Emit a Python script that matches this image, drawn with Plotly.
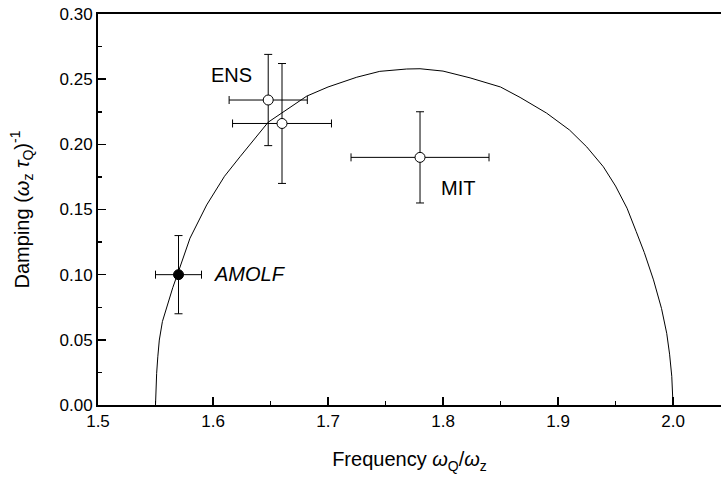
import plotly.graph_objects as go

# Experimental points
lab_names = ["AMOLF", "ENS", "ENS", "MIT"]
freq = [1.57, 1.648, 1.660, 1.780]
freq_err = [0.020, 0.034, 0.043, 0.060]
damp = [0.100, 0.234, 0.216, 0.190]
damp_err = [0.030, 0.035, 0.046, 0.035]

# Theory curve
curve_x = [1.5500, 1.5502, 1.5506, 1.5510, 1.5520, 1.5533, 1.5560, 1.5597, 1.5650, 1.5698,
           1.5800, 1.5945, 1.6100, 1.6235, 1.6480, 1.6815, 1.7000, 1.7250, 1.7450,
           1.7684, 1.7800, 1.8000, 1.8235, 1.8500, 1.8670, 1.8900, 1.9100, 1.9250,
           1.9394, 1.9500, 1.9600, 1.9680, 1.9750, 1.9830, 1.9900, 1.9945, 1.9970,
           1.9989, 2.0000]
curve_y = [0.0000, 0.0060, 0.0150, 0.0243, 0.0370, 0.0498, 0.0640, 0.0754, 0.0900, 0.1020,
           0.1280, 0.1535, 0.1755, 0.1905, 0.2170, 0.2370, 0.2440, 0.2515, 0.2560,
           0.2578, 0.2580, 0.2562, 0.2510, 0.2440, 0.2360, 0.2240, 0.2110, 0.1980,
           0.1828, 0.1680, 0.1510, 0.1330, 0.1170, 0.0960, 0.0740, 0.0550, 0.0390,
           0.0220, 0.0000]

x_ticks = [1.5, 1.6, 1.7, 1.8, 1.9, 2.0]
y_ticks = [0.00, 0.05, 0.10, 0.15, 0.20, 0.25, 0.30]

FONT = "Arial, Liberation Sans, sans-serif"

fig = go.Figure()
fig.add_trace(go.Scatter(x=curve_x, y=curve_y, mode="lines",
                         line=dict(color="black", width=1),
                         hoverinfo="skip", showlegend=False))

fills = ["black", "white", "white", "white"]
fig.add_trace(go.Scatter(
    x=freq, y=damp, mode="markers",
    marker=dict(size=10, color=fills, line=dict(color="black", width=1)),
    error_x=dict(type="data", array=freq_err, color="black", thickness=1, width=4),
    error_y=dict(type="data", array=damp_err, color="black", thickness=1, width=4),
    showlegend=False))

fig.add_annotation(x=1.6157, y=0.253, text="ENS", showarrow=False,
                   xanchor="center", yanchor="middle", font=dict(size=20, color="black", family=FONT))
fig.add_annotation(x=1.813, y=0.1664, text="MIT", showarrow=False,
                   xanchor="center", yanchor="middle", font=dict(size=20, color="black", family=FONT))
fig.add_annotation(x=1.632, y=0.1005, text="<i>AMOLF</i>", showarrow=False,
                   xanchor="center", yanchor="middle", font=dict(size=20, color="black", family=FONT))

fig.update_layout(
    width=721, height=483,
    margin=dict(l=98, r=0, t=14, b=78),
    paper_bgcolor="white", plot_bgcolor="white",
    font=dict(family=FONT, size=17, color="black"),
    xaxis=dict(range=[1.5, 2.0417], tickvals=x_ticks, ticktext=[f"{v:.1f}" for v in x_ticks],
               ticks="inside", ticklen=8, tickwidth=1.5, tickcolor="black",
               minor=dict(dtick=0.05, tick0=1.5, ticks="inside", ticklen=4, tickwidth=1.5, tickcolor="black"),
               showline=True, linewidth=2, linecolor="black", mirror=True,
               showgrid=False, zeroline=False, automargin=False,
               title=dict(text="Frequency <i>ω</i><sub>Q</sub>/<i>ω</i><sub>z</sub>",
                          font=dict(size=20), standoff=22)),
    yaxis=dict(range=[0, 0.30], tickvals=y_ticks, ticktext=[f"{v:.2f}" for v in y_ticks],
               ticks="inside", ticklen=8, tickwidth=1.5, tickcolor="black",
               minor=dict(dtick=0.025, tick0=0, ticks="inside", ticklen=4, tickwidth=1.5, tickcolor="black"),
               showline=True, linewidth=2, linecolor="black", mirror=False,
               showgrid=False, zeroline=False, automargin=False,
               title=dict(text="Damping (<i>ω</i><sub>z</sub> <i>τ</i><sub>Q</sub>)<sup>-1</sup>",
                          font=dict(size=20), standoff=25)),
)

fig.write_html("out.html", config={"displayModeBar": False, "staticPlot": True},
               post_script="document.body.style.margin='0px';")
